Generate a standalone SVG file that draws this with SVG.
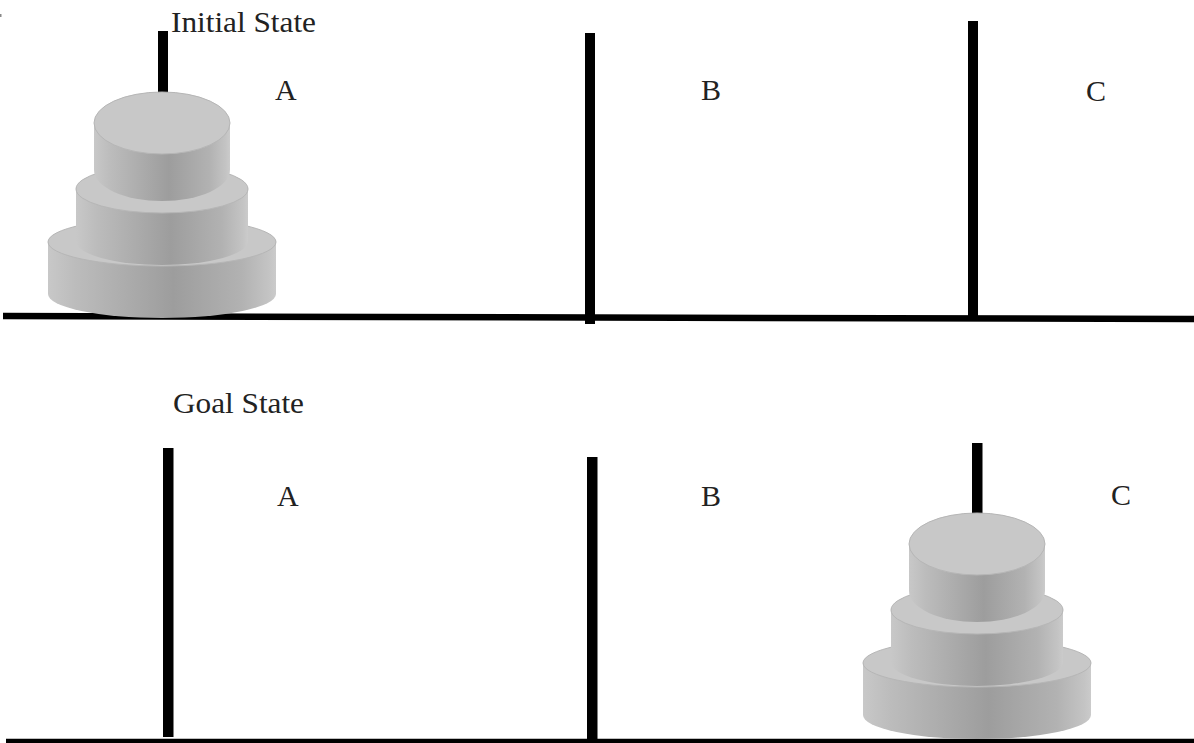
<svg xmlns="http://www.w3.org/2000/svg" xmlns:xlink="http://www.w3.org/1999/xlink" width="1194" height="743" viewBox="0 0 1194 743">
  <style>
    .label { font-family: "Liberation Serif", "Times New Roman", serif; font-size: 30px; fill: #222222; }
    .peg { fill: #000000; }
    .ground { stroke: #000000; stroke-width: 6.5; fill: none; }
    .side { fill: url(#sideShade); }
    .top { fill: #c8c8c8; stroke: #b6b6b6; stroke-width: 1; }
  </style>
  <defs>
    <!-- horizontal shading for the cylinder walls -->
    <linearGradient id="sideShade" x1="0" y1="0" x2="1" y2="0">
      <stop offset="0" stop-color="#c8c8c8"/>
      <stop offset="0.12" stop-color="#bcbcbc"/>
      <stop offset="0.55" stop-color="#9d9d9d"/>
      <stop offset="0.85" stop-color="#b2b2b2"/>
      <stop offset="0.97" stop-color="#c4c4c4"/>
      <stop offset="1" stop-color="#cbcbcb"/>
    </linearGradient>
    <!-- three stacked discs, centred on x = 162 -->
    <g id="discStack">
      <!-- large disc -->
      <path class="side" d="M48,242 L48,294 A114,24 0 0 0 276,294 L276,242 Z"/>
      <ellipse class="top" cx="162" cy="242" rx="114" ry="24"/>
      <!-- medium disc -->
      <path class="side" d="M76,189 L76,241 A86,24 0 0 0 248,241 L248,189 Z"/>
      <ellipse class="top" cx="162" cy="189" rx="86" ry="24"/>
      <!-- small disc -->
      <path class="side" d="M94,123 L94,170 A68,31 0 0 0 230,170 L230,123 Z"/>
      <ellipse class="top" cx="162" cy="123" rx="68" ry="31"/>
    </g>
  </defs>

  <rect x="0" y="0" width="1194" height="743" fill="#ffffff"/>
  <rect x="0" y="14" width="1.5" height="3" fill="#8a8a8a"/>

  <!-- base lines -->
  <g id="ground-lines">
    <line class="ground" x1="3" y1="316" x2="1194" y2="319"/>
    <line class="ground" x1="6" y1="742" x2="1194" y2="742"/>
  </g>

  <!-- initial state -->
  <g id="initial-state">
    <text class="label" x="171" y="32" textLength="145" lengthAdjust="spacingAndGlyphs">Initial State</text>
    <g id="initial-peg-a">
      <rect class="peg" x="158" y="31" width="10" height="70"/>
      <use xlink:href="#discStack"/>
      <text class="label" x="275" y="100">A</text>
    </g>
    <g id="initial-peg-b">
      <rect class="peg" x="585" y="33" width="10" height="291"/>
      <text class="label" x="701" y="100">B</text>
    </g>
    <g id="initial-peg-c">
      <rect class="peg" x="968" y="21" width="10" height="298"/>
      <text class="label" x="1086" y="101">C</text>
    </g>
  </g>

  <!-- goal state -->
  <g id="goal-state">
    <text class="label" x="173" y="413" textLength="131" lengthAdjust="spacingAndGlyphs">Goal State</text>
    <g id="goal-peg-a">
      <rect class="peg" x="163" y="448" width="10.5" height="289"/>
      <text class="label" x="277" y="506">A</text>
    </g>
    <g id="goal-peg-b">
      <rect class="peg" x="587" y="457" width="10.5" height="286"/>
      <text class="label" x="701" y="506">B</text>
    </g>
    <g id="goal-peg-c">
      <rect class="peg" x="972" y="443" width="10.5" height="80"/>
      <use xlink:href="#discStack" transform="translate(815,421)"/>
      <text class="label" x="1111" y="505">C</text>
    </g>
  </g>
</svg>
